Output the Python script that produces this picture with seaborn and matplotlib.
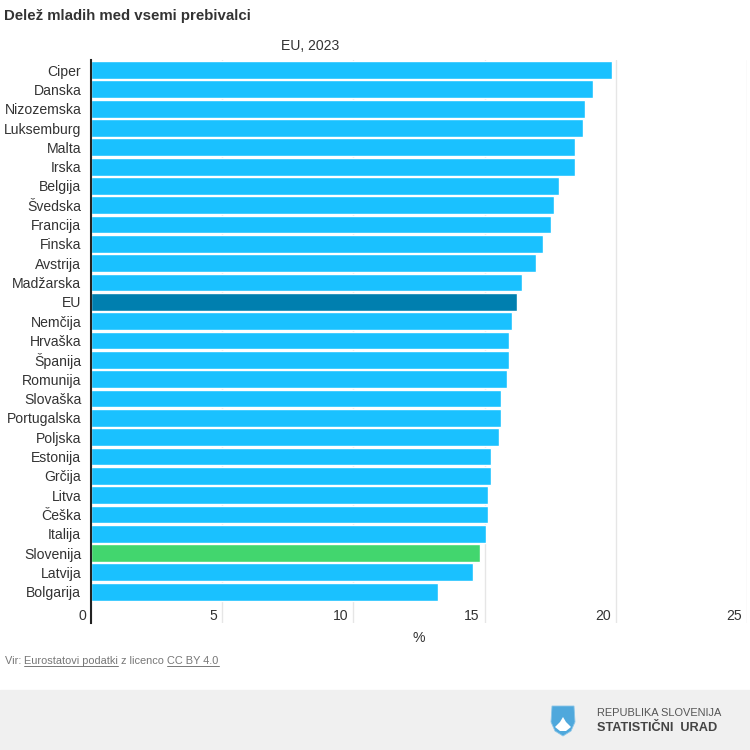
import matplotlib
matplotlib.use("Agg")
import matplotlib.pyplot as plt
from matplotlib.patches import Rectangle, Polygon
from matplotlib.lines import Line2D
from matplotlib.transforms import ScaledTranslation
import pandas as pd
import seaborn as sns

countries = ["Ciper","Danska","Nizozemska","Luksemburg","Malta","Irska","Belgija","Švedska","Francija","Finska",
             "Avstrija","Madžarska","EU","Nemčija","Hrvaška","Španija","Romunija","Slovaška","Portugalska","Poljska",
             "Estonija","Grčija","Litva","Češka","Italija","Slovenija","Latvija","Bolgarija"]
values = [19.84,19.14,18.84,18.74,18.44,18.44,17.84,17.64,17.54,17.24,
          16.94,16.44,16.24,16.04,15.94,15.94,15.84,15.64,15.64,15.54,
          15.24,15.24,15.14,15.14,15.04,14.84,14.54,13.24]
xticks = [0,5,10,15,20,25]
title = "Delež mladih med vsemi prebivalci"
subtitle = "EU, 2023"
xlabel = "%"

BLUE, DARK, GREEN = "#1AC1FF", "#007FAF", "#42D66E"
kinds = ["EU" if c == "EU" else "Slovenija" if c == "Slovenija" else "other" for c in countries]
df = pd.DataFrame({"country": countries, "value": values, "kind": kinds})

sns.set_theme(style="white")
plt.rcParams["font.family"] = ["Liberation Sans", "DejaVu Sans"]

W = H = 750
fig = plt.figure(figsize=(7.5, 7.5), dpi=100, facecolor="white")
def fx(p): return p / W
def fy(p): return 1 - p / H

ax = fig.add_axes([fx(91), fy(623), (747 - 91) / W, (623 - 60) / H])
sns.barplot(data=df, y="country", x="value", hue="kind", dodge=False, legend=False, ax=ax, width=0.92,
            palette={"other": BLUE, "EU": DARK, "Slovenija": GREEN}, saturation=1, zorder=3)
ax.set_xlim(0, 25)
ax.set_ylim(28.62, -0.52)
ax.set_xlabel("")
ax.set_ylabel("")
ax.set_xticks(xticks)
ax.set_xticklabels([str(t) for t in xticks])
ax.grid(axis="x", color="#e6e6e6", lw=1, zorder=0)
ax.grid(axis="y", visible=False)
ax.set_axisbelow(True)
for s in ["top", "right", "bottom"]:
    ax.spines[s].set_visible(False)
ax.spines["left"].set_color("#222222")
ax.spines["left"].set_linewidth(1.5)
ax.spines["left"].set_zorder(5)

ax.tick_params(axis="y", length=0, pad=7, labelsize=10.1, labelcolor="#333333")
ax.tick_params(axis="x", length=0, pad=-10, labelsize=10.1, labelcolor="#333333")
off = ScaledTranslation(-5 / 100, 0, fig.dpi_scale_trans)
for lab in ax.get_xticklabels():
    lab.set_ha("right")
    lab.set_transform(lab.get_transform() + off)

fig.text(fx(4), fy(16), title, fontsize=10.85, fontweight="bold", color="#333333", ha="left", va="center")
fig.text(fx(310), fy(46.5), subtitle, fontsize=10.1, color="#333333", ha="center", va="center")
fig.text(fx(419), fy(637.5), xlabel, fontsize=10.1, color="#333333", ha="center", va="center")

# source line
grey = "#777777"
src_y = fy(660.5)
fig.text(fx(5), src_y, "Vir: ", fontsize=7.9, color=grey, va="center")
fig.text(fx(24.5), src_y, "Eurostatovi podatki", fontsize=7.9, color=grey, va="center")
fig.text(fx(121), src_y, "z licenco", fontsize=7.9, color=grey, va="center")
fig.text(fx(167), src_y, "CC BY 4.0", fontsize=7.9, color=grey, va="center")
for a, b in [(24.5, 118), (167, 219)]:
    fig.add_artist(Line2D([fx(a), fx(b)], [fy(665.5), fy(665.5)], color=grey, lw=0.7))

# footer band
fig.add_artist(Rectangle((0, 0), 1, fy(690), transform=fig.transFigure, color="#F0F0F0", zorder=-5))
fig.text(fx(597), fy(713), "REPUBLIKA SLOVENIJA", fontsize=7.95, color="#555555", va="center")
fig.text(fx(597), fy(728), "STATISTIČNI  URAD", fontsize=9.2, color="#444444", va="center", fontweight="bold")

# coat-of-arms shield
shield = [(552, 706), (574, 706), (575, 722), (571, 731), (563, 736), (555, 731), (551, 722)]
fig.add_artist(Polygon([(fx(a), fy(b)) for a, b in shield], transform=fig.transFigure, fc="#4FA8DC", ec="#8CC6E8", lw=0.6))
peak = [(555, 727), (560, 722), (563, 717), (566, 722), (571, 727), (566, 731), (560, 731)]
fig.add_artist(Polygon([(fx(a), fy(b)) for a, b in peak], transform=fig.transFigure, fc="white", ec="none"))

fig.savefig("out.png", dpi=100)
